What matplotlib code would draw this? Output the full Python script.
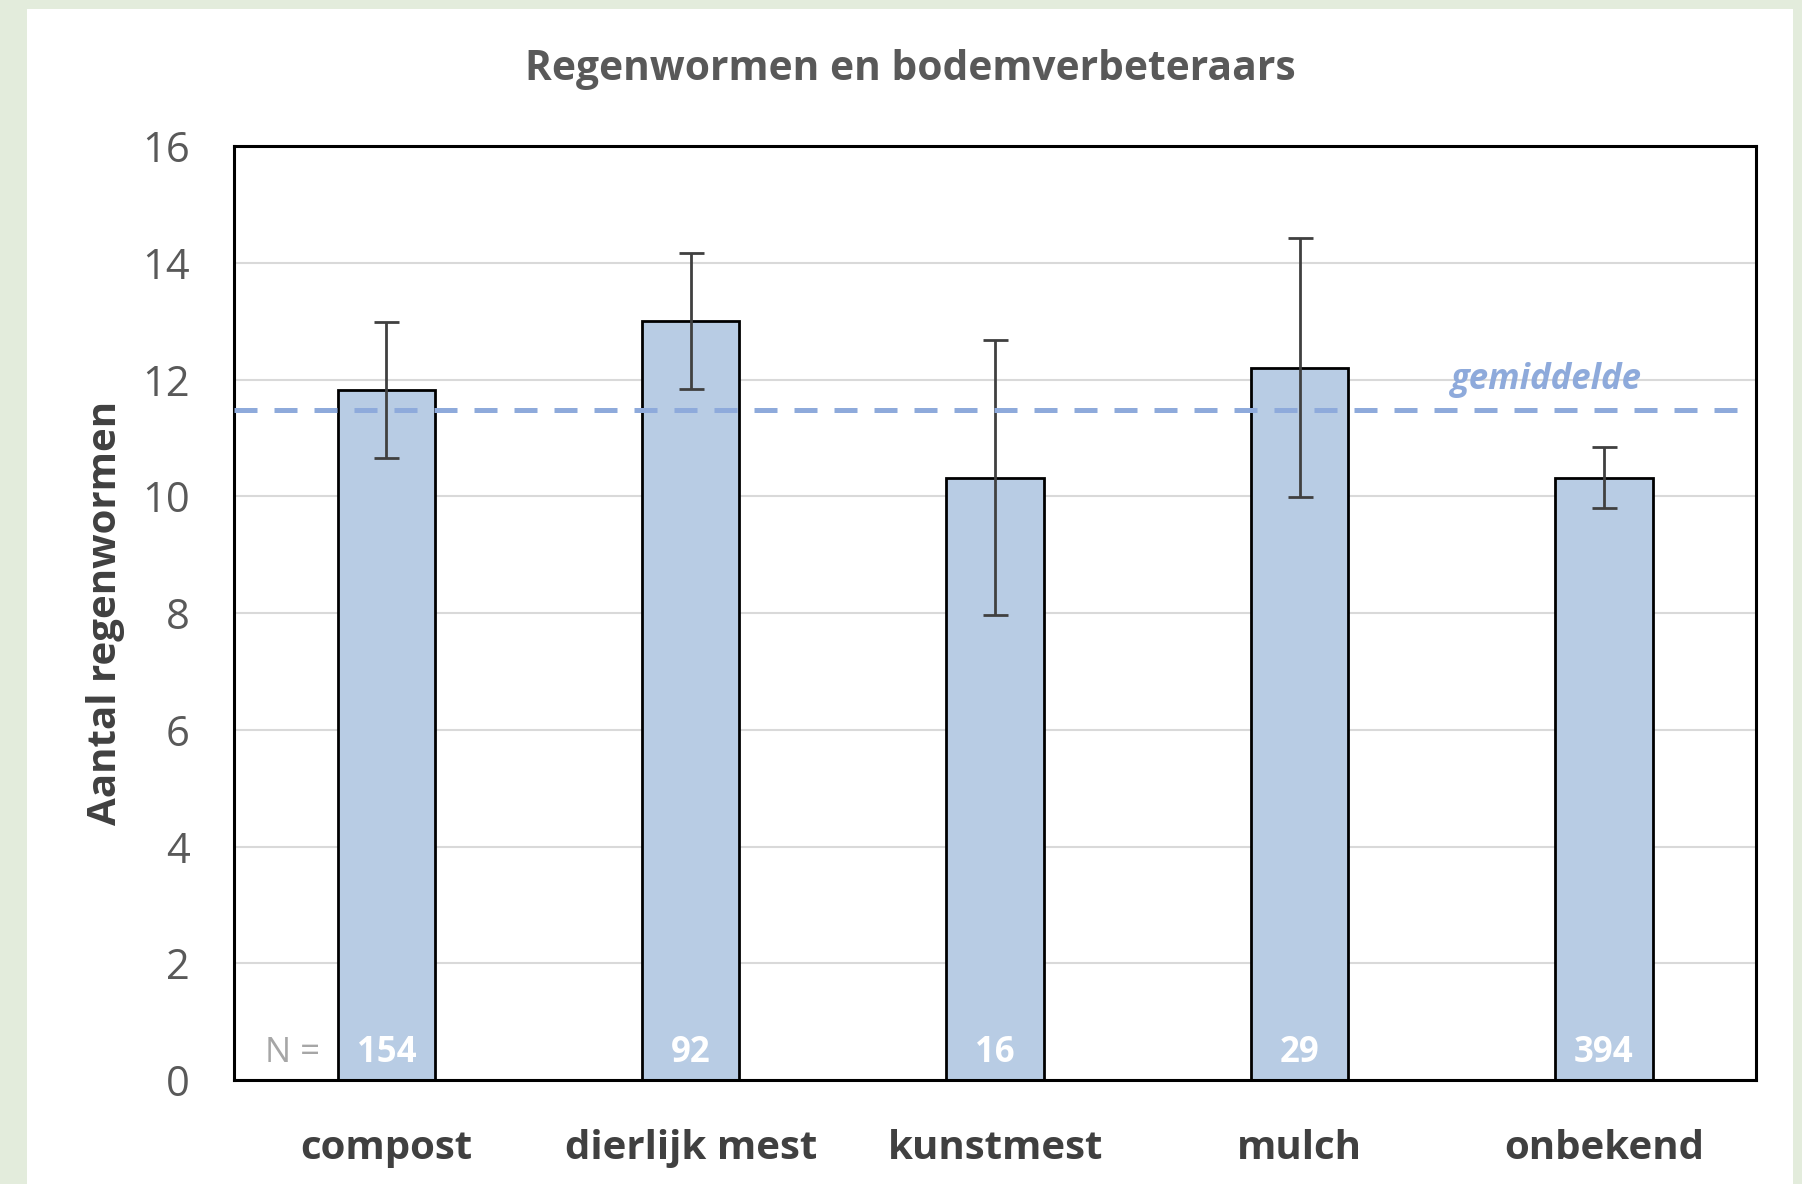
import matplotlib.pyplot as plt
import matplotlib as mpl
from matplotlib.patches import Rectangle

mpl.rcParams['font.family'] = ['Open Sans', 'DejaVu Sans']

# data
categories = ["compost", "dierlijk mest", "kunstmest", "mulch", "onbekend"]
means = [11.82, 13.0, 10.32, 12.2, 10.32]
errors = [1.17, 1.17, 2.35, 2.22, 0.52]
n_values = [154, 92, 16, 29, 394]
overall_mean = 11.48

fig = plt.figure(figsize=(18.02, 11.84), dpi=100)
fig.patch.set_facecolor("#e3ecdc")

# white slide panel
fig.patches.append(Rectangle((0.015, 0.0), 0.98, 0.9924, transform=fig.transFigure,
                             facecolor="white", edgecolor="none", zorder=-10))

ax = fig.add_axes([0.130, 0.0878, 0.8445, 0.7889])
ax.set_facecolor("white")

x = range(len(categories))
ax.bar(x, means, width=0.32, color="#b8cce4", edgecolor="black", linewidth=2, zorder=2)
ax.errorbar(x, means, yerr=errors, fmt="none", ecolor="#404040", elinewidth=2,
            capsize=9, capthick=2, zorder=3)

# gemiddelde
ax.hlines(overall_mean, -0.5, 4.45, colors="#8eaadb", linewidth=3.6,
          linestyles=(0, (4.6, 3.4)), zorder=4)
ax.text(3.81, 12.0, "gemiddelde", color="#8eaadb", fontsize=25, fontstyle="italic",
        fontweight="bold", ha="center", va="center", zorder=5)

# N labels
for i, n in enumerate(n_values):
    ax.text(i, 0.47, str(n), color="white", fontsize=25, fontweight="bold",
            ha="center", va="center", zorder=5)
ax.text(-0.31, 0.47, "N =", color="#a6a6a6", fontsize=25, ha="center", va="center", zorder=5)

ax.set_xlim(-0.5, 4.5)
ax.set_ylim(0, 16)
ax.set_yticks(range(0, 17, 2))
ax.yaxis.grid(True, color="#d9d9d9", linewidth=1.5)
ax.set_axisbelow(True)
ax.tick_params(axis="y", length=0, labelsize=30, labelcolor="#595959", pad=32)
ax.tick_params(axis="x", length=0, pad=35)
ax.set_xticks(list(x))
ax.set_xticklabels(categories, fontsize=29, fontweight="bold", color="#404040")
for s in ax.spines.values():
    s.set_linewidth(2.2)
    s.set_color("black")

ax.set_ylabel("Aantal regenwormen", fontsize=29, fontweight="bold", color="#404040", labelpad=12)
fig.text(0.505, 0.941, "Regenwormen en bodemverbeteraars", fontsize=29.3, fontweight="bold",
         color="#595959", ha="center", va="center")

fig.savefig("out.png", dpi=100, facecolor=fig.get_facecolor())
